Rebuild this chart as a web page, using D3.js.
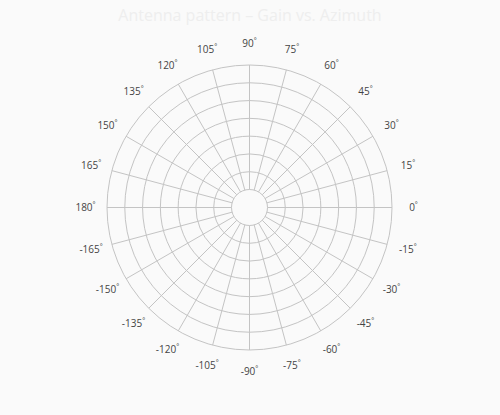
<!DOCTYPE html>
<html>
<head>
<meta charset="utf-8">
<script src="https://cdn.jsdelivr.net/npm/d3@7"></script>
<style>
  html, body { margin: 0; padding: 0; background: #fafafa; }
  svg { display: block; font-family: "Open Sans", "Noto Sans", sans-serif; }
</style>
</head>
<body>
<svg id="chart" width="500" height="415"></svg>
<script>
const title = "Antenna pattern – Gain vs. Azimuth";
const angleTicks = [0, 15, 30, 45, 60, 75, 90, 105, 120, 135, 150, 165, 180,
                    -165, -150, -135, -120, -105, -90, -75, -60, -45, -30, -15];
const ringLevels = [0, 1, 2, 3, 4, 5, 6, 7];

const W = 500, H = 415;
const cx = 249.5, cy = 207.5;
const innerR = 18, outerR = 142.5, labelR = 164;

const svg = d3.select("#chart");
svg.append("rect").attr("width", W).attr("height", H).attr("fill", "#fafafa");

svg.append("text")
  .attr("x", W / 2).attr("y", 21)
  .attr("text-anchor", "middle")
  .attr("font-size", 16)
  .attr("fill", "#eeeeee")
  .text(title);

const g = svg.append("g").attr("transform", `translate(${cx},${cy})`);

const rScale = d3.scaleLinear()
  .domain(d3.extent(ringLevels))
  .range([innerR, outerR]);

const aScale = d3.scaleLinear().domain([0, 360]).range([0, 2 * Math.PI]);

// rings
g.selectAll("circle.ring")
  .data(ringLevels)
  .join("circle")
  .attr("class", "ring")
  .attr("r", d => rScale(d))
  .attr("fill", "none")
  .attr("stroke", "#c4c4c4")
  .attr("stroke-width", 1);

// spokes
g.selectAll("line.spoke")
  .data(angleTicks)
  .join("line")
  .attr("class", "spoke")
  .attr("x1", d => rScale(ringLevels[0]) * Math.cos(aScale(d)))
  .attr("y1", d => -rScale(ringLevels[0]) * Math.sin(aScale(d)))
  .attr("x2", d => rScale(ringLevels[ringLevels.length - 1]) * Math.cos(aScale(d)))
  .attr("y2", d => -rScale(ringLevels[ringLevels.length - 1]) * Math.sin(aScale(d)))
  .attr("stroke", "#c4c4c4")
  .attr("stroke-width", 1);

// labels
const lab = g.selectAll("text.alabel")
  .data(angleTicks)
  .join("text")
  .attr("class", "alabel")
  .attr("x", d => labelR * Math.cos(aScale(d)))
  .attr("y", d => -labelR * Math.sin(aScale(d)) + 3.5)
  .attr("text-anchor", "middle")
  .attr("font-size", 10)
  .attr("fill", "#444");
lab.append("tspan").text(d => d);
lab.append("tspan")
  .attr("font-size", 7)
  .attr("dy", -4)
  .text("°");
</script>
</body>
</html>
